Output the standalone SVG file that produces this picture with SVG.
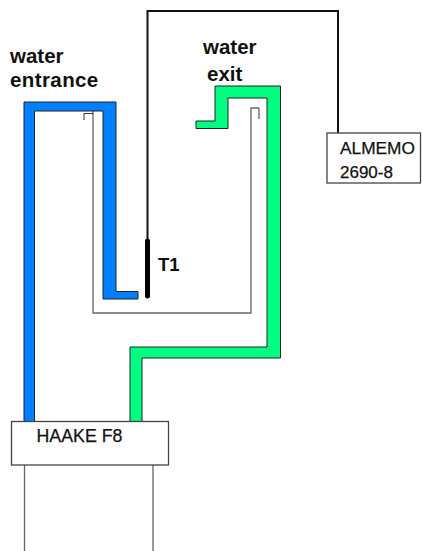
<svg xmlns="http://www.w3.org/2000/svg" width="422" height="551" viewBox="0 0 422 551">
<style>
.pipe{stroke:#222;stroke-width:1}
.tube{fill:none;stroke:#666;stroke-width:1.3}
.hook{fill:none;stroke:#333;stroke-width:1}
.box{fill:#fff;stroke:#444;stroke-width:1.3}
.b{font-family:"Liberation Sans",Arial,sans-serif;font-weight:bold;font-size:20.5px;fill:#111}
.r{font-family:"Liberation Sans",Arial,sans-serif;font-size:17.3px;fill:#111;stroke:#111;stroke-width:.25}
</style>
<rect width="422" height="551" fill="#fff"/>
<g id="connectors">
<path class="tube" d="M93 111V313H251V108H259"/>
<path class="hook" d="M84 120V113.500H93M259 108V119"/>
<path fill="none" stroke="#111" stroke-width="2" d="M147.500 240V11H338V133"/>
<path stroke="#000" stroke-width="5" stroke-linecap="round" d="M147.500 241V296"/>
<path class="tube" d="M24.500 465V551M153 465V551"/>
</g>
<g id="water-entrance-pipe">
<path class="pipe" fill="#0080ff" d="M24 422V102H116V291.500H138V299H103V111H34.500V422Z"/>
</g>
<g id="water-exit-pipe">
<path class="pipe" fill="#00ff80" d="M196 121H215V86H280.500V358H142V422H130V347H267V98H228V128.500H196Z"/>
</g>
<g id="label-water-entrance"><text class="b" x="10" y="63">water</text><text class="b" x="10" y="87" style="letter-spacing:.4px">entrance</text></g>
<g id="label-water-exit"><text class="b" x="203" y="54">water</text><text class="b" x="207" y="81">exit</text></g>
<g id="T1"><text class="b" x="158" y="271" style="font-size:18.500px">T1</text></g>
<g id="ALMEMO">
<rect class="box" x="327" y="133" width="93.500" height="50"/>
<text class="r" x="340" y="154">ALMEMO</text><text class="r" x="340" y="178" style="font-size:17px">2690-8</text>
</g>
<g id="HAAKE">
<rect class="box" x="11.500" y="421.500" width="157" height="43.500"/>
<text class="r" x="36.500" y="442" style="font-size:17.800px">HAAKE F8</text>
</g>
</svg>
